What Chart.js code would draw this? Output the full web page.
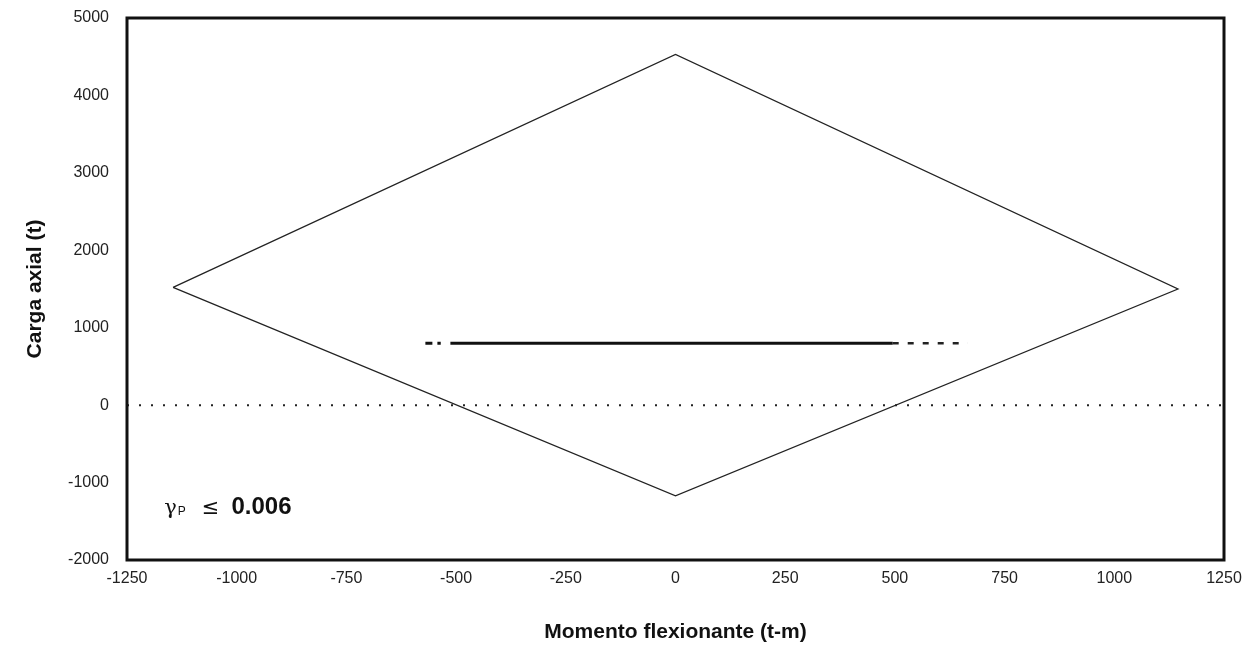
<!DOCTYPE html>
<html>
<head>
<meta charset="utf-8">
<script src="https://cdn.jsdelivr.net/npm/chart.js@4"></script>
<style>
  html, body { margin: 0; padding: 0; background: #fff; }
  #wrap { width: 1253px; height: 657px; }
</style>
</head>
<body>
<div id="wrap"><canvas id="chart" width="1253" height="657"></canvas></div>
<script>
// interaction diagram (moment, axial load)
const momento = [-1145, 0, 1145, 0, -1145];
const carga = [1520, 4530, 1500, -1170, 1520];

// zero load reference line
const zeroX = [-1250, 1250];
const zeroY = [0, 0];

// thick horizontal line near 800 t
const barraX = [-513, 495];
const barraY = [800, 800];
const barraIzqX = [-570, -535];
const barraDerX = [495, 666];

const xTicks = [-1250, -1000, -750, -500, -250, 0, 250, 500, 750, 1000, 1250];
const yTicks = [-2000, -1000, 0, 1000, 2000, 3000, 4000, 5000];

const etiqueta = { x: -1165, y: -1400 };

const pts = (xs, ys) => xs.map((x, i) => ({ x: x, y: ys[i] }));

const framePlugin = {
  id: 'frame',
  afterDatasetsDraw(chart) {
    const { ctx, chartArea: a, scales } = chart;
    ctx.save();
    ctx.strokeStyle = '#111';
    ctx.lineWidth = 3;
    ctx.strokeRect(a.left, a.top, a.right - a.left, a.bottom - a.top);

    // gamma label
    const px = scales.x.getPixelForValue(etiqueta.x);
    const py = scales.y.getPixelForValue(etiqueta.y);
    ctx.fillStyle = '#111';
    ctx.textBaseline = 'alphabetic';
    ctx.font = '21px "DejaVu Serif"';
    ctx.fillText('γ', px, py);
    let w = ctx.measureText('γ').width + 1;
    ctx.font = '12px "Liberation Sans"';
    ctx.fillText('P', px + w, py + 1);
    w += ctx.measureText('P').width + 16;
    ctx.font = '21px "DejaVu Sans"';
    ctx.fillText('≤', px + w, py);
    w += ctx.measureText('≤').width + 12;
    ctx.font = 'bold 24px "Liberation Sans"';
    ctx.fillText('0.006', px + w, py);
    ctx.restore();
  }
};

new Chart(document.getElementById('chart'), {
  type: 'scatter',
  data: {
    datasets: [
      { data: pts(momento, carga), showLine: true, borderColor: '#222', borderWidth: 1.3, pointRadius: 0, tension: 0 },
      { data: pts(zeroX, zeroY), showLine: true, borderColor: '#222', borderWidth: 2, borderDash: [2, 10], pointRadius: 0 },
      { data: pts(barraX, barraY), showLine: true, borderColor: '#111', borderWidth: 3, pointRadius: 0 },
      { data: pts(barraIzqX, barraY), showLine: true, borderColor: '#111', borderWidth: 3, borderDash: [7, 5], pointRadius: 0 },
      { data: pts(barraDerX, barraY), showLine: true, borderColor: '#222', borderWidth: 2.5, borderDash: [6, 9], pointRadius: 0 }
    ]
  },
  options: {
    responsive: false,
    animation: false,
    layout: { padding: { left: 0, right: 29, top: 18, bottom: 0 } },
    plugins: { legend: { display: false }, tooltip: { enabled: false } },
    scales: {
      x: {
        type: 'linear', min: -1250, max: 1250,
        afterBuildTicks: s => { s.ticks = xTicks.map(v => ({ value: v })); },
        afterFit: s => { s.height = 97; s.paddingLeft = 0; s.paddingRight = 0; },
        grid: { display: false, drawTicks: false },
        border: { display: false },
        ticks: { color: '#222', font: { family: 'Liberation Sans', size: 16 }, padding: 9, maxRotation: 0, callback: v => String(v) },
        title: { display: true, text: 'Momento flexionante (t-m)', color: '#111', font: { family: 'Liberation Sans', size: 21, weight: 'bold' }, padding: { top: 0, bottom: 12 } }
      },
      y: {
        type: 'linear', min: -2000, max: 5000,
        afterBuildTicks: s => { s.ticks = yTicks.map(v => ({ value: v })); },
        afterFit: s => { s.width = 127; s.paddingTop = 0; s.paddingBottom = 0; },
        grid: { display: false, drawTicks: false },
        border: { display: false },
        ticks: { color: '#222', font: { family: 'Liberation Sans', size: 16 }, padding: 18, callback: v => String(v) },
        title: { display: true, text: 'Carga axial (t)', color: '#111', font: { family: 'Liberation Sans', size: 21, weight: 'bold' }, padding: { top: 23, bottom: 0 } }
      }
    }
  },
  plugins: [framePlugin]
});
</script>
</body>
</html>
